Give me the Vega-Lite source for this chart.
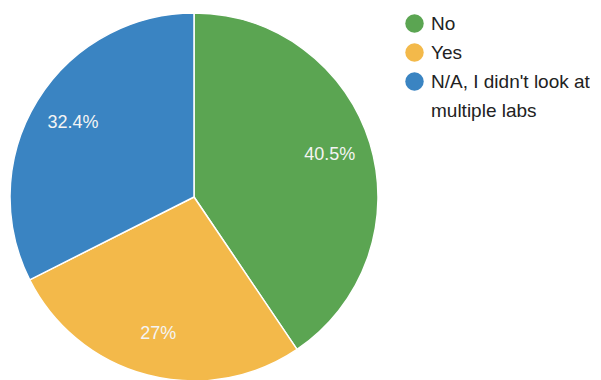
{
  "$schema": "https://vega.github.io/schema/vega-lite/v6.json",
  "width": 388,
  "height": 388,
  "padding": {"top": 3, "left": 0, "right": 0, "bottom": 0},
  "autosize": {"type": "pad"},
  "background": "white",
  "data": {
    "values": [
      {"answer": "No", "pct": 40.5, "label": "40.5%", "rank": 1},
      {"answer": "Yes", "pct": 27, "label": "27%", "rank": 2},
      {"answer": "N/A, I didn't look at multiple labs", "pct": 32.4, "label": "32.4%", "rank": 3}
    ]
  },
  "encoding": {
    "theta": {"field": "pct", "type": "quantitative", "stack": true},
    "order": {"field": "rank", "type": "quantitative"},
    "color": {
      "field": "answer",
      "type": "nominal",
      "sort": ["No", "Yes", "N/A, I didn't look at multiple labs"],
      "scale": {
        "domain": ["No", "Yes", "N/A, I didn't look at multiple labs"],
        "range": ["#5ba552", "#f3b94a", "#3a84c2"]
      },
      "legend": {
        "title": null,
        "orient": "none",
        "legendX": 405,
        "legendY": 11,
        "symbolType": "circle",
        "symbolSize": 340,
        "symbolStrokeWidth": 0,
        "labelFont": "Liberation Sans",
        "labelFontSize": 19,
        "labelColor": "#222222",
        "labelOffset": 7,
        "labelLimit": 300,
        "rowPadding": 9,
        "labelExpr": "datum.label == \"N/A, I didn't look at multiple labs\" ? [\"N/A, I didn't look at\", \"multiple labs\"] : datum.label"
      }
    }
  },
  "layer": [
    {
      "mark": {"type": "arc", "outerRadius": 184, "stroke": "white", "strokeWidth": 1.5}
    },
    {
      "mark": {
        "type": "text",
        "radius": 142,
        "font": "Liberation Sans",
        "fontSize": 18,
        "fill": "#f4f4f4",
        "align": "center",
        "baseline": "middle"
      },
      "encoding": {
        "text": {"field": "label"},
        "color": {"value": "#f4f4f4"}
      }
    }
  ],
  "config": {
    "view": {"stroke": null},
    "style": {"guide-label": {"lineHeight": 29}}
  }
}
